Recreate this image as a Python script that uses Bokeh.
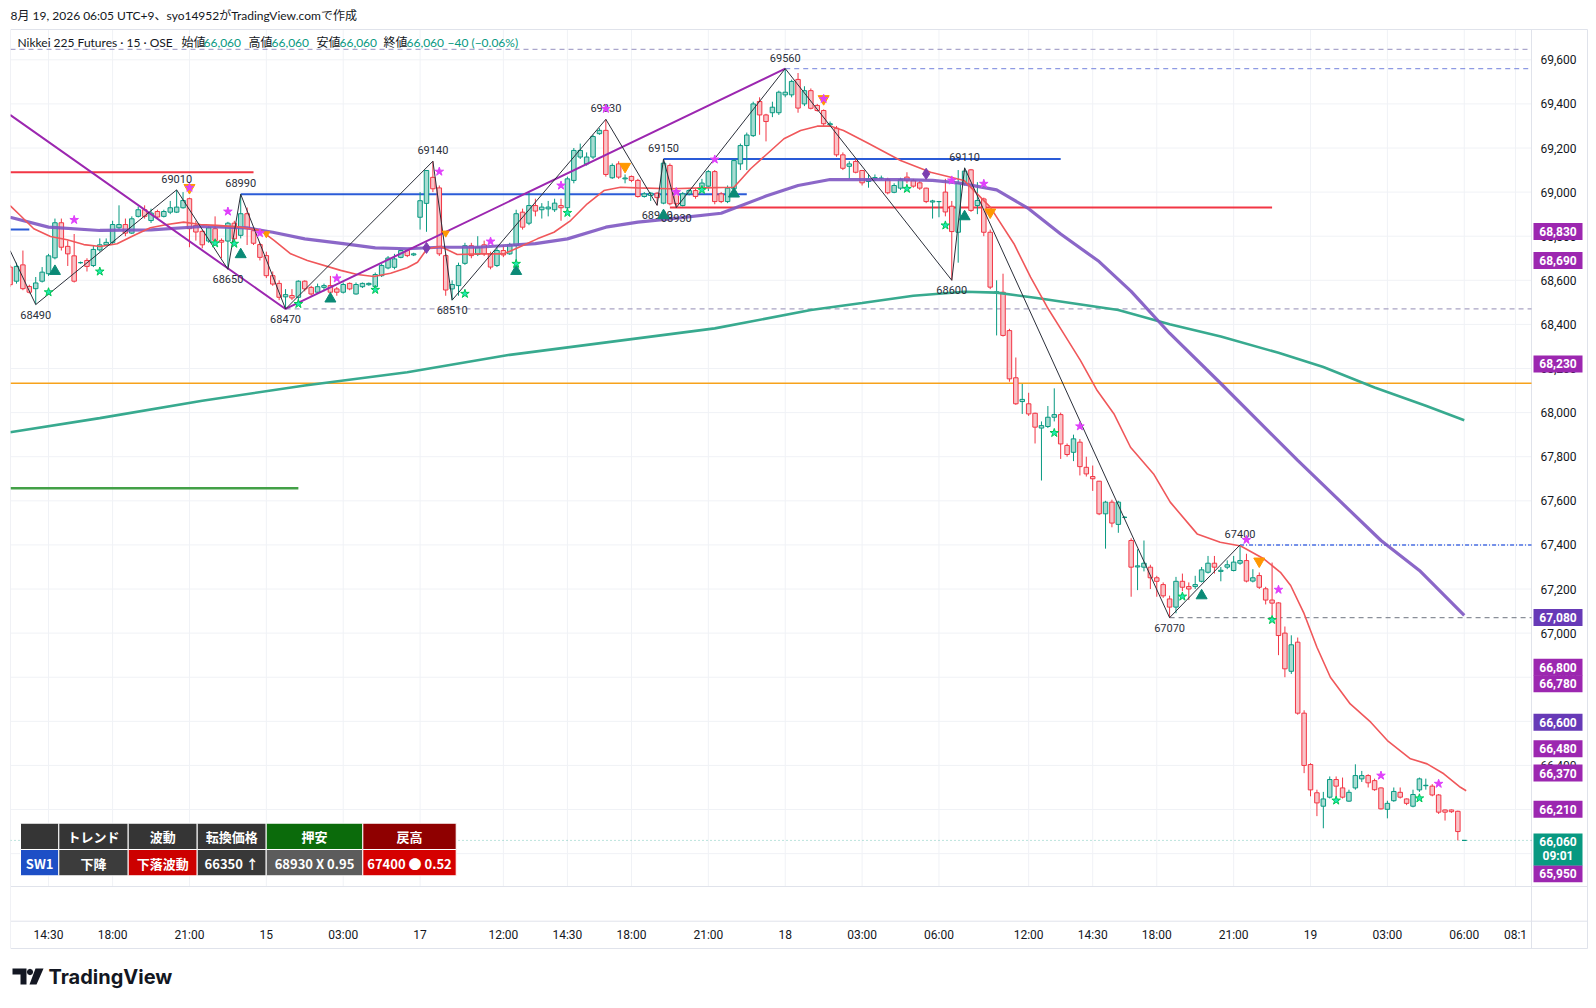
from bokeh.plotting import figure
from bokeh.models import Range1d, FixedTicker, NumeralTickFormatter, ColumnDataSource
from bokeh.core.properties import value
from bokeh.embed import file_html
from bokeh.resources import INLINE

# ================= DATA =================
bar_open = [68660,68596,68670,68572,68562,68596,68630,68702,68861,68754,68711,68680,68690,68667,68738,68761,68772,68838,68853,68814,
            68890,68920,68871,68912,68890,68909,68909,68929,68970,68849,68822,68778,68834,68781,68778,68859,68804,68902,68825,68762,
            68712,68621,68586,68525,68531,68523,68596,68568,68546,68568,68576,68561,68546,68586,68538,68571,68580,68571,68621,68656,
            68659,68704,68735,68715,68886,68949,69067,69019,68712,68561,68576,68677,68757,68717,68761,68720,68667,68735,68720,68758,
            68909,68859,68939,68920,68924,68920,68939,68929,69053,69159,69128,69159,69265,69280,69065,69128,69060,69071,69053,68980,
            68985,68995,68950,69121,69007,68939,68992,69007,69015,69027,69093,68992,68957,69015,69128,69211,69256,69411,69350,69360,
            69360,69441,69441,69511,69400,69460,69393,69370,69305,69290,69169,69117,69139,69098,69048,69060,69063,69057,68999,69018,
            69068,69052,69042,69018,68955,68957,69000,68936,68818,69038,69101,68939,68969,68818,68545,68546,68372,68158,68050,68040,
            67997,67930,67937,67979,67991,67851,67820,67866,67752,67710,67689,67541,67594,67493,67525,67420,67300,67299,67299,67251,
            67220,67155,67118,67235,67211,67211,67235,67276,67317,67280,67299,67284,67317,67329,67236,67261,67201,67150,67137,67000,
            66827,66959,66637,66404,66276,66215,66256,66336,66298,66238,66298,66339,66354,66331,66298,66201,66240,66278,66248,66215,
            66289,66308,66306,66266,66198,66198,66192,66060]
bar_high = [68670,68680,68735,68580,68615,68660,68720,68880,68880,68780,68810,68685,68700,68760,68790,68790,68870,68940,68880,68890,
            68935,68940,68925,68920,68920,68960,69010,69000,68975,68870,68830,68845,68890,68790,68865,68870,68990,68930,68830,68770,
            68730,68640,68600,68560,68560,68600,68600,68575,68585,68585,68620,68570,68590,68590,68590,68590,68590,68635,68675,68710,
            68720,68740,68740,68725,69000,69100,69140,69030,68720,68600,68680,68770,68770,68800,68780,68730,68750,68760,68770,68920,
            68925,69000,68970,68950,68960,68970,68970,69070,69200,69220,69180,69260,69290,69330,69130,69140,69080,69075,69060,69000,
            69000,69000,69150,69130,69020,69000,69015,69015,69060,69100,69100,69000,69030,69150,69220,69270,69410,69430,69355,69410,
            69460,69560,69510,69540,69480,69470,69400,69375,69320,69300,69180,69140,69150,69100,69080,69080,69075,69065,69040,69065,
            69090,69060,69050,69020,68965,68960,69060,68960,69100,69110,69105,69045,68975,68830,68600,68630,68380,68250,68130,68090,
            68000,67960,68030,68110,68000,67860,67900,67880,67800,67760,67690,67600,67605,67600,67530,67430,67380,67420,67310,67260,
            67230,67170,67255,67270,67230,67260,67300,67350,67350,67300,67330,67350,67400,67360,67290,67275,67210,67320,67140,67030,
            66990,66980,66650,66410,66290,66280,66350,66350,66345,66290,66405,66375,66360,66340,66300,66240,66300,66300,66250,66290,
            66345,66340,66315,66270,66200,66200,66195,66060]
bar_low = [68570,68585,68555,68540,68490,68590,68620,68695,68735,68665,68590,68675,68640,68660,68730,68755,68765,68830,68800,68810,
           68885,68880,68860,68880,68885,68900,68905,68925,68750,68780,68745,68770,68770,68700,68650,68780,68790,68760,68760,68690,
           68610,68575,68510,68470,68510,68490,68550,68530,68540,68550,68540,68530,68540,68555,68535,68565,68575,68565,68615,68650,
           68650,68700,68705,68710,68830,68820,69000,68710,68530,68510,68530,68670,68700,68710,68710,68650,68660,68705,68715,68680,
           68830,68850,68890,68880,68890,68910,68870,68920,69040,69150,69120,69150,69260,69070,69060,69060,69040,69045,68975,68975,
           68960,68940,68945,68940,68930,68935,68985,68970,69000,69005,68945,68950,68950,69000,69100,69100,69250,69260,69230,69340,
           69350,69430,69430,69360,69390,69375,69365,69300,69295,69160,69100,69060,69085,69030,69020,69050,69055,68990,68995,69010,
           69040,69020,69010,68950,68880,68886,68890,68600,68680,69030,68910,68900,68800,68560,68350,68345,68140,68035,67994,67985,
           67860,67692,67930,67960,67790,67800,67780,67715,67710,67645,67535,67383,67480,67455,67520,67165,67195,67280,67200,67165,
           67160,67070,67090,67190,67150,67200,67230,67270,67270,67235,67290,67280,67310,67230,67230,67200,67130,67080,66900,66800,
           66815,66630,66365,66260,66170,66115,66250,66260,66250,66235,66290,66325,66300,66285,66200,66160,66235,66250,66220,66210,
           66280,66290,66260,66180,66150,66185,66060,66060]
bar_close = [68580,68663,68562,68546,68588,68637,68711,68861,68750,68720,68596,68680,68663,68740,68761,68772,68853,68853,68814,68879,
             68920,68890,68905,68887,68912,68929,68932,68962,68834,68819,68761,68838,68781,68773,68859,68788,68902,68834,68768,68704,
             68621,68583,68523,68535,68520,68596,68561,68538,68571,68576,68546,68546,68581,68561,68581,68586,68586,68626,68667,68701,
             68697,68735,68712,68720,68961,69098,69015,68720,68556,68581,68667,68757,68712,68750,68720,68660,68735,68715,68762,68902,
             68841,68939,68914,68932,68932,68950,68929,69060,69189,69189,69159,69252,69280,69080,69121,69068,69064,69053,68980,68992,
             68995,68975,69131,68947,68947,68992,69007,68980,69041,69093,68957,68957,69018,69143,69211,69259,69400,69350,69320,69385,
             69453,69453,69502,69381,69460,69380,69370,69310,69310,69169,69108,69128,69090,69042,69060,69066,69063,68997,69030,69057,
             69052,69027,69018,68957,68960,68957,68910,68821,69040,69095,68917,68962,68818,68569,68548,68350,68153,68040,68060,67994,
             67934,67941,67979,67991,67858,67810,67881,67755,67722,67700,67541,67594,67499,67594,67525,67299,67305,67317,67251,67235,
             67169,67118,67235,67208,67200,67220,67287,67317,67299,67285,67310,67322,67329,67236,67251,67208,67150,67136,66989,66838,
             66947,66637,66400,66289,66230,66248,66336,66306,66256,66278,66354,66354,66321,66290,66203,66228,66282,66256,66228,66268,
             66339,66310,66266,66188,66188,66190,66100,66060]

time_tick_idx = [6, 16, 28, 40, 52, 64, 77, 87, 97, 109, 121, 133, 145, 159, 169, 179, 191, 203, 215, 227, 235]
time_tick_labels = ["14:30", "18:00", "21:00", "15", "03:00", "17", "12:00", "14:30", "18:00", "21:00", "18",
                    "03:00", "06:00", "12:00", "14:30", "18:00", "21:00", "19", "03:00", "06:00", "08:1"]
price_ticks = [66000, 66200, 66400, 66600, 66800, 67000, 67200, 67400, 67600, 67800, 68000,
               68200, 68400, 68600, 68800, 69000, 69200, 69400, 69600]

# fast EMA (red)
ema_fast_x = [0, 1.6, 3.7, 6.3, 8.9, 11.5, 14.1, 16.7, 19.3, 21.9, 24.5, 27.1, 29.7, 32.3, 36, 39.1, 41.2, 43.8, 46.4,
              51.6, 54.2, 56.8, 59.4, 62, 63.6, 65.1, 67.2, 69.8, 73.4, 77.1, 79.7, 82.3, 84.9, 87.5, 90.1, 92.7, 95.3,
              97.9, 103.1, 108.3, 113, 115.6, 118.2, 120.8, 123.4, 126, 128.1, 130.1, 133.8, 139, 143.7, 148.9, 153,
              156.7, 159.3, 161.9, 164.5, 167.1, 169.7, 172.3, 174.9, 178.5, 181.1, 185.3, 188.9, 192.1, 195.7, 198.3,
              199.9, 202, 204, 206.1, 209.2, 212.4, 215, 218.6, 221.2, 223.8, 226.4, 227.3]
ema_fast_y = [68939, 68894, 68834, 68799, 68784, 68762, 68753, 68766, 68803, 68838, 68853, 68864, 68853, 68849, 68841,
              68826, 68781, 68720, 68690, 68645, 68626, 68617, 68632, 68657, 68682, 68743, 68753, 68717, 68720, 68720,
              68753, 68788, 68818, 68871, 68947, 69007, 69022, 69019, 69015, 69019, 69022, 69106, 69174, 69242, 69279,
              69299, 69299, 69279, 69224, 69143, 69090, 69053, 68932, 68766, 68614, 68478, 68357, 68236, 68100, 67995,
              67843, 67722, 67594, 67450, 67412, 67395, 67337, 67276, 67216, 67088, 66936, 66800, 66679, 66596, 66513,
              66430, 66407, 66362, 66301, 66285]
# medium MA (purple)
ma_mid_x = [0, 6, 14, 22, 30, 37, 41, 46, 52, 57, 62, 67, 73, 82, 87, 93, 98, 103, 111, 118, 123, 128, 139, 144,
            148, 154, 159, 164, 170, 175, 181, 189, 201, 214, 220, 227]
ma_mid_y = [68886, 68841, 68826, 68829, 68844, 68838, 68818, 68788, 68766, 68747, 68743, 68750, 68750, 68766, 68788,
            68841, 68864, 68879, 68904, 68982, 69030, 69057, 69057, 69053, 69042, 69010, 68925, 68810, 68685, 68550,
            68360, 68132, 67783, 67420, 67284, 67080]
# long MA (teal)
ma_long_x = [0, 14, 30, 46, 62, 78, 94, 110, 125, 133, 141, 149, 154, 160, 173, 181, 189, 198, 205, 213, 221, 227]
ma_long_y = [67911, 67975, 68054, 68123, 68183, 68262, 68322, 68382, 68465, 68497, 68530, 68548, 68544, 68521,
             68465, 68401, 68345, 68271, 68207, 68114, 68031, 67965]

# zigzag pivots
zigzag_x = [0, 4, 26, 34, 36, 43, 66, 69, 93, 101, 102, 104, 121, 147, 149, 181, 192]
zigzag_y = [68735, 68490, 69010, 68650, 68990, 68470, 69140, 68510, 69330, 68940, 69150, 68930, 69560, 68600,
            69110, 67070, 67400]
swing_x = [0, 43, 121]
swing_y = [69350, 68470, 69560]

# horizontal levels (solid); None = pane edge
level_price = [69090, 68990, 68830, 69150, 68930, 68133, 67657]
level_from = [None, 36, None, 102, 103, None, None]
level_to = [38, 115, 3, 164, 197, None, 45]
level_color = ["#f23645", "#2a5bd7", "#2a5bd7", "#2a5bd7", "#f23645", "#f7a21b", "#43a047"]
level_width = [2, 2, 2, 2, 2, 1.5, 2.5]
# dashed levels
dash_price = [69647, 69560, 68470, 67070]
dash_from = [None, 121, 43, 181]
dash_color = ["#aaa6cc", "#8e9ae3", "#a9a4c4", "#8a8f99"]

# signal markers
pink_star_x = [10, 28, 34, 39, 51, 67, 75, 86, 93, 104, 110, 127, 147, 152, 167, 193, 198, 214, 223]
pink_star_y = [68874, 69020, 68912, 68814, 68609, 69093, 68776, 69030, 69378, 69000, 69148, 69423, 69053, 69038,
               67938, 67423, 67197, 66354, 66317]
green_star_x = [6, 14, 32, 35, 45, 57, 71, 79, 87, 108, 140, 146, 163, 183, 197, 207, 220]
green_star_y = [68546, 68640, 68768, 68766, 68493, 68557, 68539, 68675, 68906, 69010, 69015, 68849, 67908, 67166,
                67060, 66241, 66251]
buy_tri_x = [7, 36, 50, 79, 102, 113, 149, 186]
buy_tri_y = [68641, 68717, 68516, 68641, 68894, 68992, 68889, 67170]
sell_tri_x = [28, 96, 127, 153, 195]
sell_tri_y = [69020, 69116, 69423, 68909, 67326]
small_sell_x = [40, 68]
small_sell_y = [68811, 68814]
diamond_x = [65, 143]
diamond_y = [68747, 69083]

# price-scale labels
scale_label_price = [68830, 68690, 68230, 67080, 66800, 66780, 66600, 66480, 66370, 66210, 65950]
scale_label_kind = ["m", "m", "m", "i", "m", "m", "i", "m", "m", "m", "m"]
scale_label_shift_px = [2, 0, 2, 2, -10, 2, 1, 1, 1, 2, 9]
countdown_text = "09:01"

# table
table_header = ["", "トレンド", "波動", "転換価格", "押安", "戻高"]
table_row = ["SW1", "下降", "下落波動", "66350 ↑", "68930 X 0.95", "67400 ● 0.52"]

# ================= LAYOUT (screenshot pixel calibration) =================
W, H = 1590, 1000
BAR0_PX, BAR_PX = 9.6, 6.406          # x pixel of bar 0, pixels per bar
P_REF, P_REF_PX, P_PER_PX = 69600, 59.3, 4.535
PANE_L, PANE_R, PANE_T, PANE_B = 10, 1531, 29, 886
OUTER_R, TIME_T, TIME_B = 1587, 920.7, 948


def rx(x):
    return (x - BAR0_PX) / BAR_PX


def ry(y):
    return P_REF - (y - P_REF_PX) * P_PER_PX


def ph(px):  # vertical pixel distance -> price distance
    return px * P_PER_PX


TXT = "#131722"
UP_LINE, UP_FILL = "#089981", "#a8dcd2"
DN_LINE, DN_FILL = "#f23645", "#f9c4c8"
GRID = "#f0f2f6"
BORDER = "#e0e3eb"
FONT = "Roboto"
HDR = "Lato, Noto Sans CJK JP"
JP = "Noto Sans CJK JP"

p = figure(width=W, height=H, x_range=Range1d(rx(0), rx(W)), y_range=Range1d(ry(H), ry(0)),
           y_axis_location="right", output_backend="svg", toolbar_location=None, title=None,
           min_border=0, min_border_left=0, min_border_right=0, min_border_top=0, min_border_bottom=0,
           background_fill_color="white", border_fill_color="white", outline_line_color=None)

p.xgrid.visible = False
p.ygrid.visible = False
p.xaxis.ticker = FixedTicker(ticks=time_tick_idx)
p.yaxis.ticker = FixedTicker(ticks=price_ticks)
p.xaxis.major_label_overrides = {k: v for k, v in zip(time_tick_idx, time_tick_labels)}
p.yaxis.formatter = NumeralTickFormatter(format="0,0")
p.xaxis.fixed_location = ry(TIME_T)
p.yaxis.fixed_location = rx(PANE_R)
for ax in (p.xaxis, p.yaxis):
    ax.axis_line_color = None
    ax.major_tick_line_color = None
    ax.minor_tick_line_color = None
    ax.major_label_text_font = FONT
    ax.major_label_text_font_size = "12px"
    ax.major_label_text_color = TXT
p.xaxis.major_label_standoff = 1
p.yaxis.major_label_standoff = 3

# grid (pane only)
p.segment(x0=time_tick_idx, y0=[ry(PANE_B)] * len(time_tick_idx), x1=time_tick_idx,
          y1=[ry(PANE_T)] * len(time_tick_idx), line_color=GRID, line_width=1)
p.segment(x0=[rx(PANE_L)] * len(price_ticks), y0=price_ticks, x1=[rx(PANE_R)] * len(price_ticks),
          y1=price_ticks, line_color=GRID, line_width=1)

# widget borders
bx0 = [PANE_L, PANE_L, OUTER_R, PANE_L, PANE_R, PANE_L, PANE_L]
by0 = [PANE_T, PANE_T, PANE_T, TIME_B, PANE_T, PANE_B, TIME_T]
bx1 = [OUTER_R, PANE_L, OUTER_R, OUTER_R, PANE_R, OUTER_R, OUTER_R]
by1 = [PANE_T, TIME_B, TIME_B, TIME_B, TIME_B, PANE_B, TIME_T]
p.segment(x0=[rx(v) for v in bx0], y0=[ry(v) for v in by0], x1=[rx(v) for v in bx1], y1=[ry(v) for v in by1],
          line_color=BORDER, line_width=1)

XL, XR = rx(PANE_L), rx(PANE_R)

# levels
for pr, a, b, c, w in zip(level_price, level_from, level_to, level_color, level_width):
    p.segment(x0=[XL if a is None else a], y0=[pr], x1=[XR if b is None else b], y1=[pr], line_color=c, line_width=w)
for pr, a, c in zip(dash_price, dash_from, dash_color):
    p.segment(x0=[XL if a is None else a], y0=[pr], x1=[XR], y1=[pr], line_color=c, line_width=1.3, line_dash="5 4")
p.segment(x0=[192], y0=[67400], x1=[XR], y1=[67400], line_color="#4a6fe3", line_width=1.5, line_dash="4 2 1 2")
p.segment(x0=[XL], y0=[bar_close[-1]], x1=[XR], y1=[bar_close[-1]], line_color="#089981",
          line_alpha=0.55, line_width=1, line_dash="1 3")

# candles
n = len(bar_open)
up = [c >= o for o, c in zip(bar_open, bar_close)]
src = ColumnDataSource(dict(
    x=list(range(n)), h=bar_high, l=bar_low,
    top=[max(o, c) for o, c in zip(bar_open, bar_close)],
    bottom=[min(o, c) for o, c in zip(bar_open, bar_close)],
    fill=[UP_FILL if u else DN_FILL for u in up],
    line=[UP_LINE if u else DN_LINE for u in up]))
p.segment(x0="x", y0="l", x1="x", y1="h", line_color="line", line_width=1, source=src)
p.vbar(x="x", width=0.7, top="top", bottom="bottom", fill_color="fill", line_color="line",
       line_width=1, source=src)

# moving averages
p.line(ma_long_x, ma_long_y, line_color="#38aa8f", line_width=2.6)
p.line(ma_mid_x, ma_mid_y, line_color="#7e57c2", line_width=3.2, line_alpha=0.9)
p.line(ema_fast_x, ema_fast_y, line_color="#f0575a", line_width=1.6)

# zigzags
p.line(swing_x, swing_y, line_color="#9c27b0", line_width=2)
p.line(zigzag_x, zigzag_y, line_color="#2a2e39", line_width=1)

hi_x, hi_y, lo_x, lo_y = [], [], [], []
for k in range(1, len(zigzag_x)):
    if zigzag_y[k] > zigzag_y[k - 1]:
        hi_x.append(zigzag_x[k]); hi_y.append(zigzag_y[k])
    else:
        lo_x.append(zigzag_x[k]); lo_y.append(zigzag_y[k])
p.text(x=hi_x, y=hi_y, text=[str(v) for v in hi_y], text_font=value(FONT), text_font_size=value("11px"),
       text_color="#2a2e39", text_align="center", text_baseline="bottom", y_offset=-7)
p.text(x=lo_x, y=lo_y, text=[str(v) for v in lo_y], text_font=value(FONT), text_font_size=value("11px"),
       text_color="#2a2e39", text_align="center", text_baseline="top", y_offset=6)

# markers
p.scatter(buy_tri_x, buy_tri_y, marker="triangle", size=11, fill_color="#0b8a76", line_color="#0b8a76")
p.scatter(sell_tri_x, sell_tri_y, marker="inverted_triangle", size=11, fill_color="#ff9800", line_color="#ff9800")
p.scatter(small_sell_x, small_sell_y, marker="inverted_triangle", size=7, fill_color="#ff9800", line_color="#ff9800")
p.scatter(diamond_x, diamond_y, marker="diamond", size=11, fill_color="#7b3fb0", line_color="#7b3fb0")
p.scatter(pink_star_x, pink_star_y, marker="star", size=9, fill_color="#e040fb", line_color="#e040fb")
p.scatter(green_star_x, green_star_y, marker="star", size=9, fill_color="#1de9b6", line_color="#00c853")

# clip anything left of the pane
p.quad(left=[rx(0)], right=[XL], top=[ry(0)], bottom=[ry(H)], fill_color="white", line_color=None)

# table
col_edges = [20, 58.3, 127.7, 196.7, 265.7, 362.3, 455.7]
row_edges = [822.7, 849, 875.3]
head_colors = ["#353535", "#353535", "#353535", "#353535", "#0b6b0b", "#8f0000"]
row_colors = ["#1d4fc6", "#3c3c3c", "#cc0000", "#383838", "#5c5c5c", "#d50000"]
L_, R_, T_, B_, C_ = [], [], [], [], []
tx, ty, tt = [], [], []
for r, (texts, colors) in enumerate(((table_header, head_colors), (table_row, row_colors))):
    for c in range(6):
        L_.append(rx(col_edges[c])); R_.append(rx(col_edges[c + 1]))
        T_.append(ry(row_edges[r])); B_.append(ry(row_edges[r + 1])); C_.append(colors[c])
        tx.append(rx((col_edges[c] + col_edges[c + 1]) / 2))
        ty.append(ry((row_edges[r] + row_edges[r + 1]) / 2 + 0.5))
        tt.append(texts[c])
p.quad(left=L_, right=R_, top=T_, bottom=B_, fill_color=C_, line_color="white", line_width=1)
p.text(x=tx, y=ty, text=tt, text_font=value(JP), text_font_size=value("13px"), text_font_style="bold",
       text_color="white", text_align="center", text_baseline="middle")

# header texts
p.text(x=[rx(10)], y=[ry(15)], text=["8月 19, 2026 06:05 UTC+9、syo14952がTradingView.comで作成"],
       text_font=value(HDR), text_font_size=value("12px"), text_color=TXT, text_baseline="middle")
last = f"{bar_close[-1]:,}"
chg = bar_close[-1] - bar_close[-2]
legend_parts = [("Nikkei 225 Futures · 15 · OSE", 17, TXT), ("始値", 181, TXT), (last, 203, UP_LINE),
                ("高値", 248, TXT), (last, 271, UP_LINE), ("安値", 316, TXT), (last, 339, UP_LINE),
                ("終値", 383, TXT), (last, 406, UP_LINE),
                (f"−{abs(chg)} (−{abs(chg) / bar_close[-2] * 100:.2f}%)", 447, UP_LINE)]
p.text(x=[rx(v[1]) for v in legend_parts], y=[ry(42)] * len(legend_parts), text=[v[0] for v in legend_parts],
       text_color=[v[2] for v in legend_parts], text_font=value(HDR), text_font_size=value("12px"),
       text_baseline="middle")

# price-scale labels (drawn above the axis labels)
kind_color = {"m": "#9c27b0", "i": "#673ab7", "g": "#089981"}
cy = [pr - ph(s) for pr, s in zip(scale_label_price, scale_label_shift_px)]
p.quad(left=[rx(1533)] * len(cy), right=[rx(1582)] * len(cy), top=[v + ph(8.5) for v in cy],
       bottom=[v - ph(8.5) for v in cy], fill_color=[kind_color[k] for k in scale_label_kind],
       line_color=None, level="overlay")
p.text(x=[rx(1557.5)] * len(cy), y=cy, text=[f"{v:,}" for v in scale_label_price], text_font=value(FONT),
       text_font_size=value("12px"), text_font_style="bold", text_color="white", text_align="center",
       text_baseline="middle", level="overlay")
last_y = bar_close[-1]
p.quad(left=[rx(1533)], right=[rx(1582)], top=[last_y + ph(7)], bottom=[last_y - ph(25)],
       fill_color=kind_color["g"], line_color=None, level="overlay")
p.text(x=[rx(1557.5)] * 2, y=[last_y - ph(1.5), last_y - ph(16)], text=[last, countdown_text],
       text_font=value(FONT), text_font_size=value("12px"), text_font_style="bold", text_color="white",
       text_align="center", text_baseline="middle", level="overlay")

# TradingView logo
logo_xs = [[12, 26, 26, 20, 20, 12],
           [29.5, 31.8, 32.7, 31.8, 29.5, 27.2, 26.3, 27.2],
           [35, 43, 36, 29]]
logo_ys = [[968, 968, 984, 984, 974, 974],
           [968.3, 969.2, 971.5, 973.8, 974.7, 973.8, 971.5, 969.2],
           [968, 968, 984, 984]]
p.patches(xs=[[rx(v) for v in xs] for xs in logo_xs], ys=[[ry(v) for v in ys] for ys in logo_ys],
          fill_color=TXT, line_color=None)
p.text(x=[rx(48)], y=[ry(976)], text=["TradingView"], text_font=value("Inter"), text_font_size=value("20px"),
       text_font_style="bold", text_color=TXT, text_baseline="middle")

open("out.html", "w").write(file_html(p, INLINE))
